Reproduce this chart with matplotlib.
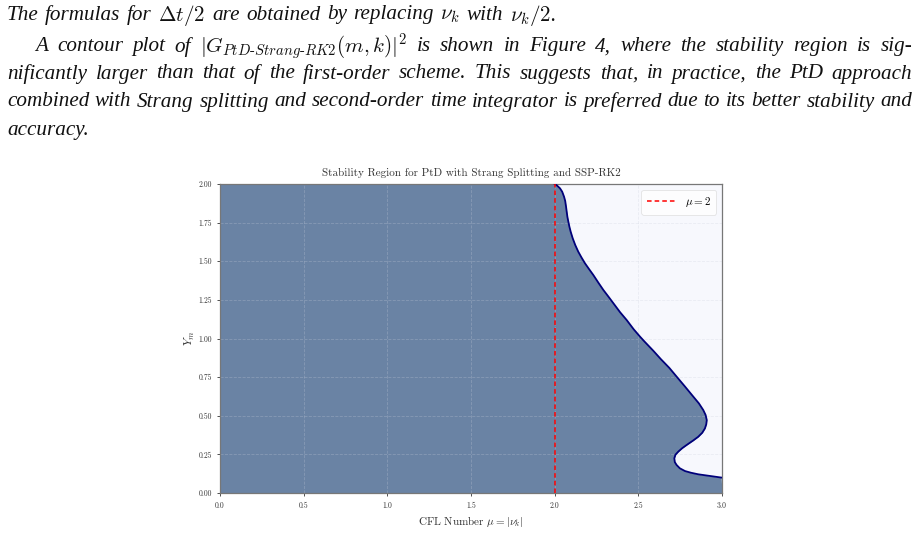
import numpy as np
import matplotlib
matplotlib.use("Agg")
import matplotlib.pyplot as plt

plt.rcParams['mathtext.fontset'] = 'cm'
plt.rcParams['axes.formatter.use_mathtext'] = True

# ---------------- data ----------------
# stability boundary: Y_m (vertical) and CFL number mu at the boundary
y_boundary = [0.100, 0.121, 0.131, 0.142, 0.160, 0.181, 0.200, 0.225, 0.248,
              0.268, 0.290, 0.311, 0.340, 0.364, 0.390, 0.418, 0.445, 0.472,
              0.505, 0.537, 0.580, 0.623, 0.690, 0.753, 0.810, 0.866, 0.920,
              0.979, 1.012, 1.060, 1.120, 1.170, 1.228, 1.270, 1.314, 1.360,
              1.411, 1.450, 1.487, 1.525, 1.562, 1.605, 1.648, 1.690, 1.724,
              1.760, 1.788, 1.820, 1.853, 1.890, 1.918, 1.950, 1.972, 1.990,
              2.000]
mu_boundary = [2.995, 2.858, 2.815, 2.779, 2.748, 2.729, 2.718, 2.715, 2.722,
               2.739, 2.762, 2.789, 2.828, 2.858, 2.882, 2.898, 2.906, 2.909,
               2.902, 2.888, 2.862, 2.829, 2.778, 2.729, 2.685, 2.635, 2.590,
               2.538, 2.510, 2.472, 2.430, 2.391, 2.351, 2.322, 2.291, 2.262,
               2.231, 2.205, 2.181, 2.160, 2.141, 2.123, 2.108, 2.096, 2.088,
               2.081, 2.076, 2.072, 2.068, 2.063, 2.056, 2.045, 2.032, 2.014,
               2.000]
mu_line = 2.0
x_ticks = [0.0, 0.5, 1.0, 1.5, 2.0, 2.5, 3.0]
y_ticks = [0.00, 0.25, 0.50, 0.75, 1.00, 1.25, 1.50, 1.75, 2.00]

title = "Stability Region for PtD with Strang Splitting and SSP-RK2"
xlabel = r"CFL Number $\mu = |\nu_k|$"
ylabel = r"$Y_m$"
legend_label = r"$\mu = 2$"

paragraph_lines = [
    (r"The formulas for $\Delta{}t/2$ are obtained by replacing $\nu_k$ with $\nu_k/2$.", False),
    (r"A contour plot of $|G_{PtD\text{-}Strang\text{-}RK2}(m,k)|^2$ is shown in Figure 4, where the stability region is sig-", True),
    (r"nificantly larger than that of the first-order scheme.  This suggests that, in practice, the PtD approach", True),
    (r"combined with Strang splitting and second-order time integrator is preferred due to its better stability and", True),
    (r"accuracy.", False),
]

# ---------------- figure ----------------
W, H = 919, 549
fig = plt.figure(figsize=(W / 100, H / 100), dpi=100)
fig.patch.set_facecolor('white')
renderer = fig.canvas.get_renderer()

# paragraph text, justified word by word
line_geom = [(7, 912, 15), (35, 912, 47), (7, 912, 74), (7, 912, 102), (7, 912, 131)]
for (line, just), (x0, x1, yc) in zip(paragraph_lines, line_geom):
    words = line.split()
    texts = []
    for w in words:
        t = fig.text(0, 1 - yc / H, w, fontsize=15.2, family='Liberation Serif',
                     style='italic', va='center', ha='left', color='#111111')
        texts.append(t)
    widths = [t.get_window_extent(renderer).width for t in texts]
    if just and len(words) > 1:
        gap = (x1 - x0 - sum(widths)) / (len(words) - 1)
    else:
        gap = 6.5
    x = x0
    for t, wd in zip(texts, widths):
        t.set_x(x / W)
        x += wd + gap

# chart
ax = fig.add_axes([220 / W, 1 - 493 / H, (722 - 220) / W, (493 - 184) / H])
ax.set_facecolor('#f7f8fd')

y_fill = [0.0] + y_boundary
x_fill = [3.0] + mu_boundary
ax.fill_betweenx(y_fill, 0, x_fill, color='#6a83a4', lw=0, zorder=1)
ax.plot(mu_boundary, y_boundary, color='#00007a', lw=1.3, zorder=3)
ax.axvline(mu_line, color='red', ls=(0, (3, 2)), lw=1.1, label=legend_label, zorder=4)

ax.set_xlim(0, 3.0)
ax.set_ylim(0, 2.0)
ax.set_xticks(x_ticks)
ax.set_yticks(y_ticks)
ax.set_xticklabels([f"{v:.1f}" for v in x_ticks])
ax.set_yticklabels([f"{v:.2f}" for v in y_ticks])
ax.tick_params(labelsize=5.5, length=2.5, width=0.6, colors='#333333')
for lab in ax.get_xticklabels() + ax.get_yticklabels():
    lab.set_family('cmr10')

ax.grid(True, ls='--', lw=0.6, color='#c9cedb', alpha=0.3)
for s in ax.spines.values():
    s.set_color('#777777')
    s.set_linewidth(0.9)

ax.set_title(title, fontsize=8, family='cmr10', color='#333333', pad=6)
ax.set_xlabel(xlabel, fontsize=8, family='cmr10', color='#333333', labelpad=3)
ax.set_ylabel(ylabel, fontsize=8.5, color='#333333', labelpad=1)

leg = ax.legend(loc='upper right', fontsize=8, frameon=True, fancybox=True,
                handlelength=2.6, borderpad=0.5)
leg.get_frame().set_edgecolor('#dddddd')
leg.get_frame().set_linewidth(0.6)

fig.savefig('out.png', dpi=100)
